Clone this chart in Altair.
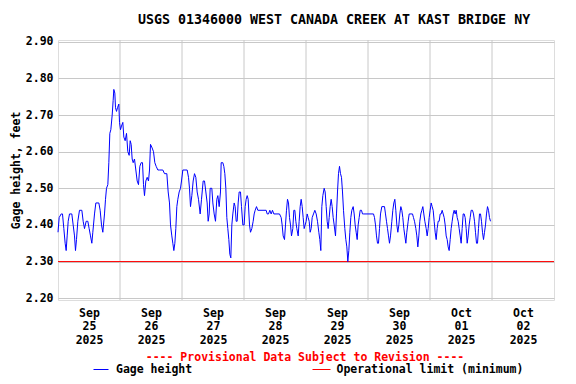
import altair as alt
import pandas as pd

# ---- data ----
hours = [0.0, 0.45, 1.23, 1.74, 2.26, 2.77, 3.16, 3.55, 3.94, 4.45, 5.35, 5.87, 6.39, 6.77, 7.16, 7.68,
         8.32, 9.23, 9.74, 10.26, 10.90, 11.55, 12.06, 12.58, 13.10, 13.48, 14.13, 14.65, 15.81, 16.32,
         16.84, 17.35, 18.0, 18.39, 18.77, 19.29, 19.68, 20.06, 20.45, 20.97, 21.35, 21.61, 22.0, 22.26,
         22.65, 23.03, 23.55, 23.81, 24.19, 24.58, 25.10, 25.48, 26.0, 26.52, 27.03, 27.55, 27.94, 28.32,
         28.71, 29.10, 29.61, 30.13, 30.65, 31.16, 31.68, 32.19, 32.71, 33.10, 33.48, 34.0, 34.52, 35.03,
         35.42, 35.81, 36.45, 36.97, 37.48, 38.0, 38.65, 39.29, 40.58, 41.23, 42.13, 42.65, 43.16, 43.55,
         44.06, 44.45, 44.84, 45.23, 45.61, 46.0, 46.39, 46.90, 47.42, 47.81, 48.32, 50.0, 50.52, 50.90,
         51.29, 51.81, 52.32, 52.84, 53.35, 53.87, 54.39, 55.03, 55.55, 56.19, 56.71, 57.23, 57.74, 58.13,
         58.52, 58.90, 59.55, 59.94, 60.45, 60.97, 61.48, 61.87, 62.39, 62.90, 63.16, 63.81,
         64.19, 64.58, 64.97, 65.35, 65.74, 66.13, 66.52, 66.90, 67.29, 67.68, 68.19, 68.58, 68.97, 69.35,
         69.74, 70.13, 70.65, 71.03, 71.55, 72.06, 72.45, 72.84, 73.23, 73.61, 74.13, 74.52, 75.03, 75.55,
         75.94, 76.32, 76.84, 77.35, 80.58, 80.97, 81.48, 82.0, 82.52, 83.03, 83.55, 85.74, 86.39, 86.77,
         87.16, 87.68, 88.06, 88.45, 88.84, 89.23, 89.61, 90.0, 90.39, 90.90, 91.29, 91.68, 92.06, 92.45,
         92.97, 93.35, 93.74, 94.13, 94.52, 94.90, 95.29, 95.68, 96.06, 96.45, 96.84, 97.23, 97.61, 98.0,
         98.39, 98.90, 99.42, 99.94, 100.45, 100.97, 101.35, 101.74, 102.13, 102.52, 103.03, 103.42,
         103.81, 104.19, 104.58, 104.97, 105.35, 105.74, 106.13, 106.52, 106.90, 107.42, 107.81, 108.19,
         108.58, 108.97, 109.35, 109.74, 110.13, 110.52, 111.03, 111.42, 111.81, 112.19, 112.58, 112.97,
         113.35, 113.74, 114.26, 114.65, 115.03, 115.42, 115.81, 116.19, 116.58, 116.97, 117.48, 117.87,
         118.39, 122.13, 122.52, 122.90, 123.29, 123.68, 124.06, 124.45, 124.84, 125.35, 126.39,
         126.77, 127.16, 127.55, 127.94, 128.32, 128.71, 129.23, 129.61, 130.0, 130.39, 130.77, 131.16,
         131.55, 131.94, 132.32, 132.71, 133.10, 133.48, 133.87, 134.26, 134.65, 135.03, 135.55, 135.94,
         137.23, 137.61, 138.0, 138.52, 138.90, 139.29, 139.68, 140.06, 140.45, 140.84, 141.23, 141.61,
         142.0, 142.52, 142.90, 143.29, 143.68, 144.06, 144.45, 144.84, 145.23, 145.61, 146.0, 146.39,
         146.77, 147.16, 147.55, 147.94, 148.32, 148.71, 149.10, 149.48, 149.87, 150.26, 150.65, 151.03,
         151.42, 151.81, 152.19, 152.58, 152.97, 153.35, 153.74, 154.13, 154.52, 154.90, 155.29, 155.68,
         156.06, 156.45, 156.84, 157.23, 157.61, 158.0, 158.39, 158.77, 159.16, 159.55, 159.94, 160.45,
         160.84, 161.23, 161.61, 162.0, 162.39, 162.77, 163.16, 163.55, 163.94, 164.32, 164.71, 165.10,
         165.48, 165.87, 166.26, 166.65, 167.03, 167.42]

stage = [2.38, 2.42, 2.43, 2.43, 2.39, 2.35, 2.33, 2.37, 2.41, 2.43, 2.43, 2.40, 2.37, 2.33, 2.36, 2.41,
         2.44, 2.44, 2.41, 2.39, 2.41, 2.41, 2.39, 2.37, 2.35, 2.38, 2.43, 2.46, 2.46, 2.44,
         2.40, 2.38, 2.43, 2.47, 2.50, 2.51, 2.57, 2.65, 2.66, 2.70, 2.74, 2.77, 2.76, 2.72,
         2.71, 2.72, 2.73, 2.68, 2.66, 2.67, 2.68, 2.64, 2.63, 2.65, 2.60, 2.59, 2.63, 2.62,
         2.58, 2.57, 2.58, 2.55, 2.52, 2.51, 2.56, 2.57, 2.57, 2.51, 2.48, 2.52, 2.53, 2.52,
         2.55, 2.62, 2.61, 2.60, 2.57, 2.56, 2.55, 2.55, 2.55, 2.54, 2.54, 2.49, 2.46, 2.40,
         2.37, 2.35, 2.33, 2.35, 2.39, 2.45, 2.47, 2.49, 2.50, 2.52, 2.55, 2.55, 2.53, 2.50,
         2.45, 2.48, 2.52, 2.54, 2.53, 2.49, 2.47, 2.43, 2.47, 2.52, 2.52, 2.49, 2.46, 2.41,
         2.43, 2.50, 2.50, 2.46, 2.43, 2.41, 2.47, 2.48, 2.45, 2.49, 2.57, 2.57,
         2.56, 2.54, 2.50, 2.42, 2.39, 2.36, 2.32, 2.31, 2.40, 2.43, 2.46, 2.45, 2.41, 2.41,
         2.46, 2.49, 2.49, 2.45, 2.40, 2.40, 2.45, 2.47, 2.48, 2.47, 2.40, 2.38, 2.39, 2.41,
         2.43, 2.44, 2.45, 2.44, 2.44, 2.43, 2.43, 2.44, 2.43, 2.44, 2.43, 2.43, 2.42, 2.40,
         2.37, 2.36, 2.40, 2.44, 2.47, 2.46, 2.42, 2.40, 2.37, 2.39, 2.44, 2.44, 2.41, 2.39,
         2.37, 2.41, 2.45, 2.47, 2.45, 2.42, 2.39, 2.40, 2.41, 2.43, 2.42, 2.41, 2.38, 2.39,
         2.42, 2.43, 2.44, 2.43, 2.41, 2.38, 2.36, 2.33, 2.45, 2.48, 2.50, 2.49,
         2.45, 2.41, 2.39, 2.42, 2.45, 2.47, 2.45, 2.42, 2.40, 2.37, 2.43, 2.49,
         2.54, 2.56, 2.54, 2.53, 2.49, 2.44, 2.39, 2.36, 2.34, 2.30, 2.33, 2.38,
         2.42, 2.44, 2.45, 2.43, 2.40, 2.38, 2.36, 2.40, 2.42, 2.44, 2.44, 2.43,
         2.43, 2.43, 2.42, 2.40, 2.37, 2.35, 2.35, 2.39, 2.43, 2.45, 2.45,
         2.43, 2.41, 2.39, 2.37, 2.35, 2.37, 2.41, 2.44, 2.46, 2.47, 2.44, 2.40,
         2.38, 2.40, 2.43, 2.45, 2.44, 2.42, 2.39, 2.37, 2.35, 2.38, 2.41, 2.43,
         2.43, 2.42, 2.41, 2.39, 2.37, 2.34, 2.37, 2.41, 2.43, 2.44, 2.45, 2.43,
         2.41, 2.39, 2.37, 2.39, 2.42, 2.44, 2.46, 2.45, 2.44, 2.41, 2.38, 2.36,
         2.39, 2.41, 2.41, 2.43, 2.43, 2.44, 2.43, 2.42, 2.40, 2.37, 2.36, 2.34,
         2.33, 2.36, 2.39, 2.41, 2.43, 2.44, 2.43, 2.44, 2.42, 2.41, 2.39, 2.37,
         2.35, 2.39, 2.43, 2.43, 2.42, 2.39, 2.35, 2.37, 2.40, 2.42, 2.44, 2.44,
         2.43, 2.41, 2.38, 2.35, 2.35, 2.39, 2.43, 2.43, 2.41, 2.38, 2.36, 2.38,
         2.40, 2.43, 2.45, 2.44, 2.42, 2.41]

day_lines = ["2025-09-26", "2025-09-27", "2025-09-28", "2025-09-29",
             "2025-09-30", "2025-10-01", "2025-10-02"]
label_days = [(9, 25), (9, 26), (9, 27), (9, 28), (9, 29), (9, 30), (10, 1), (10, 2)]
y_ticks = [2.2, 2.3, 2.4, 2.5, 2.6, 2.7, 2.8, 2.9]
oper_limit = 2.30

title_text = "USGS 01346000 WEST CANADA CREEK AT KAST BRIDGE NY"
prov_text = "---- Provisional Data Subject to Revision ----"
legend_labels = ["Gage height", "Operational limit (minimum)"]

FONT = "DejaVu Sans Mono"
W, H = 496, 260

start = pd.Timestamp("2025-09-25 00:00")
df = pd.DataFrame({
    "time": [(start + pd.Timedelta(hours=h)).strftime("%Y-%m-%dT%H:%M:%S") for h in hours],
    "stage": stage,
})
grid_df = pd.DataFrame({"time": [d + "T00:00:00" for d in day_lines]})
limit_df = pd.DataFrame({"stage": [oper_limit]})
one = pd.DataFrame({"k": [0]})

x_scale = alt.Scale(domain=[alt.DateTime(year=2025, month=9, date=25),
                            alt.DateTime(year=2025, month=10, date=3)])
x_axis = alt.Axis(
    title=None, grid=False, ticks=False, domain=False,
    values=[alt.DateTime(year=2025, month=m, date=d, hours=12) for m, d in label_days],
    labelExpr="[timeFormat(datum.value, '%b'), timeFormat(datum.value, '%d'), timeFormat(datum.value, '%Y')]",
    labelFont=FONT, labelFontSize=11.5, labelFontWeight="bold", labelColor="black",
    labelPadding=7, labelLineHeight=13.5, labelAngle=0, labelAlign="center",
    labelFlush=False, labelOverlap=False,
)
y_scale = alt.Scale(domain=[2.195, 2.905], nice=False, zero=False)
y_axis = alt.Axis(
    title="Gage height, feet", values=y_ticks, format=".2f",
    grid=True, gridColor="#c8c8c8", gridWidth=1, ticks=False, domain=False,
    labelFont=FONT, labelFontSize=11.5, labelFontWeight="bold", labelColor="black",
    labelPadding=5, titleFont=FONT, titleFontSize=11.5, titleFontWeight="bold",
    titleColor="black", titlePadding=4,
)

xenc = alt.X("time:T", scale=x_scale, axis=x_axis)
yenc = alt.Y("stage:Q", scale=y_scale, axis=y_axis)

grid = alt.Chart(grid_df).mark_rule(color="#c8c8c8", strokeWidth=1).encode(x=xenc)

limit = alt.Chart(limit_df).mark_rule(color="#ff0000", strokeWidth=1).encode(y=yenc)

line = alt.Chart(df).mark_line(color="#0000ff", strokeWidth=1).encode(x=xenc, y=yenc)

def txt(text, x, y, color="black", align="center", size=11.5):
    return alt.Chart(one).mark_text(
        font=FONT, fontSize=size, fontWeight="bold", color=color,
        align=align, baseline="middle"
    ).encode(x=alt.value(x), y=alt.value(y), text=alt.value(text))

LEG_Y = 329.5
title = txt(title_text, 276, -20, size=13.3)
prov = txt(prov_text, 247, 317.5, color="#ff0000")
leg1_txt = txt(legend_labels[0], 58, LEG_Y, align="left")
leg2_txt = txt(legend_labels[1], 278.5, LEG_Y, align="left")
sw1 = alt.Chart(one).mark_rule(color="#0000ff", strokeWidth=1).encode(
    x=alt.value(35.5), x2=alt.value(50.5), y=alt.value(LEG_Y))
sw2 = alt.Chart(one).mark_rule(color="#ff0000", strokeWidth=1).encode(
    x=alt.value(254.5), x2=alt.value(272.5), y=alt.value(LEG_Y))

chart = alt.layer(grid, limit, line, title, prov, sw1, leg1_txt, sw2, leg2_txt).properties(
    width=W, height=H,
    autosize=alt.AutoSizeParams(type="none"),
    padding={"left": 50, "top": 32, "right": 14, "bottom": 76},
).configure_view(stroke="black", strokeWidth=1.2).configure(background="white")

chart.save("out.html", embed_options={"renderer": "svg", "actions": False})
